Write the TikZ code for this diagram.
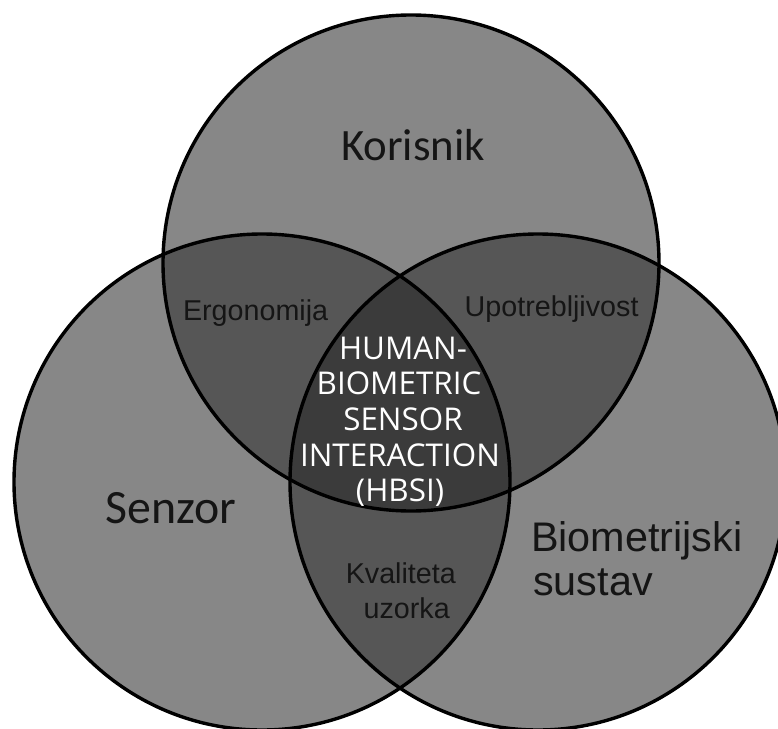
\documentclass[tikz,border=0pt]{standalone}
\usepackage{fontspec}
\setmainfont{Liberation Sans}
\newfontfamily\calfont{Carlito}
\newfontfamily\opensfont{Open Sans}
\definecolor{cone}{HTML}{878787}
\definecolor{ctwo}{HTML}{565656}
\definecolor{cthree}{HTML}{3B3B3B}
\definecolor{ink}{HTML}{151515}
\begin{document}
\begin{tikzpicture}[x=1bp,y=-1bp,
  ring/.style={draw=black,line width=3.4bp},
  bigcal/.style={text=ink,inner sep=0pt,font=\calfont\fontsize{45}{45}\selectfont},
  bigarial/.style={text=ink,inner sep=0pt,font=\fontsize{41.5}{41.5}\selectfont},
  small/.style={text=ink,inner sep=0pt,font=\fontsize{28.8}{28.8}\selectfont},
  hbsi/.style={text=white,inner sep=0pt,font=\opensfont\fontsize{31.5}{31.5}\selectfont}]
\useasboundingbox (0,0) rectangle (778,729);
\fill[white] (0,0) rectangle (778,729);
\clip (0,0) rectangle (778,729);
% single regions
\fill[cone] (411,263) circle[radius=248];
\fill[cone] (262,482) circle[radius=248];
\fill[cone] (538,482) circle[radius=248];
% pairwise overlaps
\begin{scope}
  \clip (411,263) circle[radius=248];
  \fill[ctwo] (262,482) circle[radius=248];
  \fill[ctwo] (538,482) circle[radius=248];
\end{scope}
\begin{scope}
  \clip (262,482) circle[radius=248];
  \fill[ctwo] (538,482) circle[radius=248];
\end{scope}
% triple overlap
\begin{scope}
  \clip (411,263) circle[radius=248];
  \clip (262,482) circle[radius=248];
  \fill[cthree] (538,482) circle[radius=248];
\end{scope}
% outlines
\draw[ring] (411,263) circle[radius=248];
\draw[ring] (262,482) circle[radius=248];
\draw[ring] (538,482) circle[radius=248];
% labels
\node[bigcal,anchor=base] (kor) at (413,160.5) {Korisnik};
\node[bigcal,anchor=base,font=\calfont\fontsize{48}{48}\selectfont] (sen) at (171,523) {Senzor};
\node[bigarial,anchor=base west] (bio) at (531,551) {Biometrijski};
\node[bigarial,anchor=base west] (sus) at (533,595) {sustav};
\node[small,anchor=base] (erg) at (255.6,320) {Ergonomija};
\node[small,anchor=base] (upo) at (551.6,316) {Upotrebljivost};
\node[small,anchor=base] (kva) at (400.8,583) {Kvaliteta};
\node[small,anchor=base] (uzo) at (406.7,618) {uzorka};
\node[hbsi,anchor=base] (h1) at (403,359) {HUMAN-};
\node[hbsi,anchor=base] (h2) at (399,394) {BIOMETRIC};
\node[hbsi,anchor=base] (h3) at (403,430) {SENSOR};
\node[hbsi,anchor=base] (h4) at (400,466) {INTERACTION};
\node[hbsi,anchor=base] (h5) at (400,501) {(HBSI)};
\end{tikzpicture}
\end{document}
